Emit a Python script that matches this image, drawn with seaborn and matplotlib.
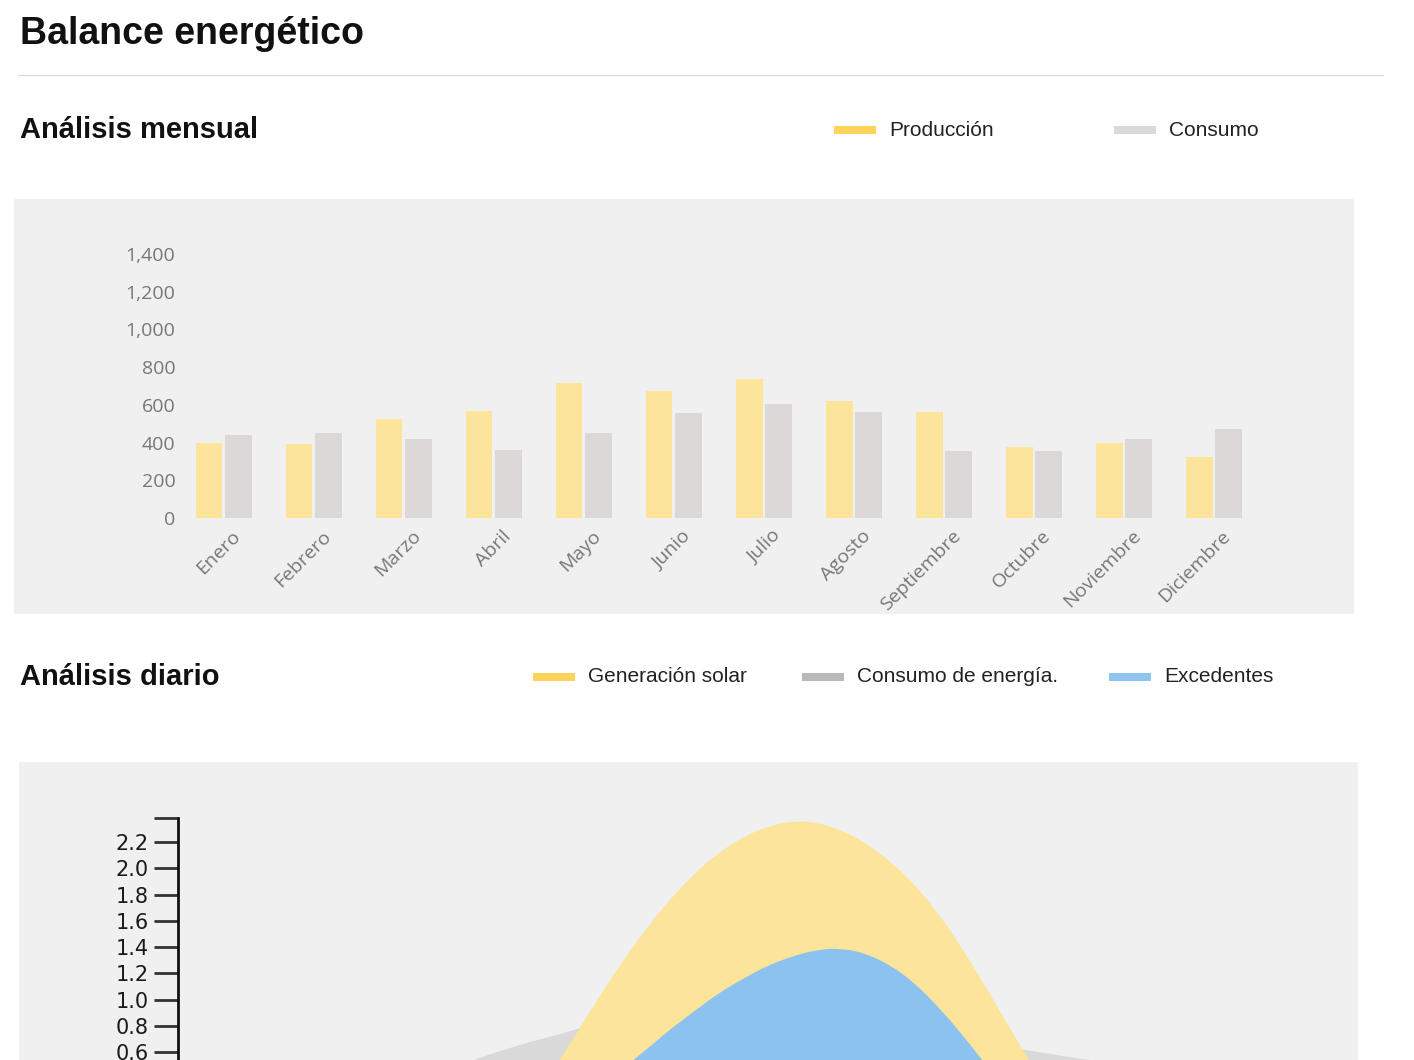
# Balance energetico - monthly bars + daily profile
import numpy as np
import pandas as pd
import seaborn as sns
import matplotlib
matplotlib.use('Agg')
import matplotlib.pyplot as plt
from matplotlib.patches import Rectangle, PathPatch
from matplotlib.path import Path
from matplotlib.lines import Line2D
from matplotlib.transforms import ScaledTranslation

# Monthly data (kWh)
meses = ['Enero', 'Febrero', 'Marzo', 'Abril', 'Mayo', 'Junio', 'Julio',
         'Agosto', 'Septiembre', 'Octubre', 'Noviembre', 'Diciembre']
produccion = [399, 391, 525, 567, 714, 675, 737, 620, 561, 375, 400, 325]
consumo = [442, 452, 421, 359, 452, 557, 603, 561, 357, 357, 419, 474]
ticks_mes = [0, 200, 400, 600, 800, 1000, 1200, 1400]
tick_labels_mes = ['0', '200', '400', '600', '800', '1,000', '1,200', '1,400']
leyenda_mes = ['Producción', 'Consumo']

# Daily profile (kW), half hour steps 0h..24h
horas = [h / 2 for h in range(49)]
generacion = [0] * 14 + [0.15, 0.38, 0.68, 0.98, 1.27, 1.53, 1.76, 1.96, 2.12, 2.24,
                         2.32, 2.36, 2.35, 2.29, 2.19, 2.05, 1.87, 1.64, 1.36, 1.05,
                         0.73, 0.42, 0.18, 0.05] + [0] * 11
consumo_dia = [0.35, 0.33, 0.32, 0.31, 0.30, 0.30, 0.30, 0.30, 0.31, 0.33,
               0.37, 0.45, 0.54, 0.60, 0.66, 0.71, 0.76, 0.82, 0.88, 0.93,
               0.97, 1.00, 1.02, 1.03, 1.03, 1.02, 1.00, 0.97, 0.93, 0.88,
               0.82, 0.76, 0.70, 0.66, 0.63, 0.60, 0.57, 0.54, 0.52, 0.50,
               0.49, 0.48, 0.47, 0.45, 0.43, 0.41, 0.39, 0.37, 0.35]
excedentes = [0] * 16 + [0.12, 0.30, 0.46, 0.61, 0.77, 0.91, 1.05, 1.16, 1.26, 1.33,
                         1.38, 1.39, 1.35, 1.26, 1.12, 0.93, 0.71, 0.47, 0.22] + [0] * 14
ticks_dia = [0.6, 0.8, 1.0, 1.2, 1.4, 1.6, 1.8, 2.0, 2.2]
leyenda_dia = ['Generación solar', 'Consumo de energía.', 'Excedentes']

# Colours
amarillo = '#fce49b'
gris_barra = '#dcd8d8'
gris_area = '#d9d9d9'
azul = '#8cc2ee'
fondo = '#f0f0f0'

sns.set_style('white')
plt.rcParams['font.family'] = ['Liberation Sans', 'DejaVu Sans']

W, H = 1414, 1060
fig = plt.figure(figsize=(W / 100, H / 100), dpi=100)
fig.patch.set_facecolor('white')

def fx(x):
    return x / W

def fy(y):
    return 1 - y / H

# Headers
fig.text(fx(20), fy(44), 'Balance energético', fontsize=27, fontweight='bold',
         color='#111111', va='baseline')
fig.add_artist(Line2D([fx(18), fx(1383)], [fy(75), fy(75)], color='#dddddd', lw=1))
fig.text(fx(20), fy(138), 'Análisis mensual', fontsize=21, fontweight='bold',
         color='#111111', va='baseline')
fig.text(fx(20), fy(685), 'Análisis diario', fontsize=21, fontweight='bold',
         color='#111111', va='baseline')

# Legends (swatch + label)
def entrada(x, y, color, texto):
    fig.add_artist(Rectangle((fx(x), fy(y + 4)), 42 / W, 8 / H, transform=fig.transFigure,
                             color=color, lw=0))
    fig.text(fx(x + 55), fy(y), texto, fontsize=15, color='#222222', va='center')

entrada(834, 130, '#fdd35a', leyenda_mes[0])
entrada(1114, 130, '#dadada', leyenda_mes[1])
entrada(533, 677, '#fdd35a', leyenda_dia[0])
entrada(802, 677, '#b9b9b9', leyenda_dia[1])
entrada(1109, 677, '#8ec5f0', leyenda_dia[2])

# Grey panels
fig.add_artist(Rectangle((fx(14), fy(614)), (1354 - 14) / W, (614 - 199) / H,
                         transform=fig.transFigure, color=fondo, lw=0, zorder=-5))
fig.add_artist(Rectangle((fx(19), fy(1070)), (1358 - 19) / W, (1070 - 762) / H,
                         transform=fig.transFigure, color=fondo, lw=0, zorder=-5))

# ---- Monthly bar chart
df_mes = pd.DataFrame({
    'mes': meses * 2,
    'valor': produccion + consumo,
    'serie': [leyenda_mes[0]] * 12 + [leyenda_mes[1]] * 12,
})
ax1 = fig.add_axes([fx(185), fy(518), (1250 - 185) / W, (518 - 254) / H])
ax1.set_facecolor('none')
sns.barplot(data=df_mes, x='mes', y='valor', hue='serie', palette=[amarillo, gris_barra],
            width=0.66, gap=0.1, saturation=1, linewidth=0, legend=False, ax=ax1)
ax1.set_xlim(-0.433, 11.4)
ax1.set_ylim(0, 1400)
ax1.set_yticks(ticks_mes)
ax1.set_yticklabels(tick_labels_mes, fontfamily='Open Sans')
ax1.set_xlabel('')
ax1.set_ylabel('')
ax1.tick_params(length=0, colors='#777777', labelsize=14)
ax1.tick_params(axis='y', pad=7)
ax1.tick_params(axis='x', pad=11)
for s in ax1.spines.values():
    s.set_visible(False)
desplaza = ScaledTranslation(0.14, 0, fig.dpi_scale_trans)
for lab in ax1.get_xticklabels():
    lab.set_rotation(45)
    lab.set_ha('right')
    lab.set_va('center')
    lab.set_rotation_mode('anchor')
    lab.set_fontfamily('Open Sans')
    lab.set_transform(lab.get_transform() + desplaza)

# ---- Daily profile
ax2 = fig.add_axes([fx(178), fy(1130.75), (1358 - 178) / W, (1130.75 - 818) / H])
ax2.set_facecolor('none')

# smooth area (quadratic curve through the data points, like a d3 basis curve)
def area(ax, x, y, color, z):
    p = np.column_stack([x, y])
    verts = [(x[0], 0), tuple(p[0]), tuple((p[0] + p[1]) / 2)]
    codes = [Path.MOVETO, Path.LINETO, Path.LINETO]
    for i in range(1, len(p) - 1):
        verts += [tuple(p[i]), tuple((p[i] + p[i + 1]) / 2)]
        codes += [Path.CURVE3, Path.CURVE3]
    verts += [tuple(p[-1]), (x[-1], 0), (x[0], 0)]
    codes += [Path.LINETO, Path.LINETO, Path.CLOSEPOLY]
    ax.add_patch(PathPatch(Path(verts, codes), facecolor=color, lw=0, zorder=z))

area(ax2, horas, consumo_dia, gris_area, 1)
area(ax2, horas, generacion, amarillo, 2)
area(ax2, horas, excedentes, azul, 3)
ax2.set_xlim(0, 24)
ax2.set_ylim(0, 2.383)
ax2.set_yticks(ticks_dia)
ax2.set_yticklabels([f'{t:.1f}' for t in ticks_dia], fontfamily='DejaVu Sans')
ax2.set_yticks([2.383], minor=True)
ax2.set_xticks([])
ax2.tick_params(axis='y', which='both', left=True, length=17, width=2, color='#333333',
                labelsize=15, labelcolor='#1a1a1a', pad=4)
for k in ['top', 'right', 'bottom']:
    ax2.spines[k].set_visible(False)
ax2.spines['left'].set_color('#111111')
ax2.spines['left'].set_linewidth(2)

fig.savefig('out.png', dpi=100, facecolor=fig.get_facecolor())
